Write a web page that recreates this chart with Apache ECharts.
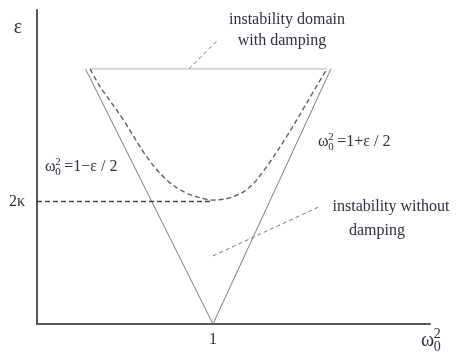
<!DOCTYPE html>
<html>
<head>
<meta charset="utf-8">
<script src="https://cdn.jsdelivr.net/npm/echarts@6/dist/echarts.min.js"></script>
<style>html,body{margin:0;padding:0;background:#fff;}#c{width:456px;height:356px;}</style>
</head>
<body>
<div id="c"></div>
<script>
// ---- data (x = omega0^2, y = epsilon) ----
var triangleNoDamping = [[0.502, 1.0], [1.0, 0.0], [1.461, 1.0]];
var topEdge = [[0.52, 1.0], [1.445, 1.0]];
var dampedBoundary = [
  [0.52, 1.0], [0.559, 0.931], [0.65, 0.80], [0.741, 0.656], [0.819, 0.565],
  [0.897, 0.513], [0.975, 0.489], [1.0, 0.486], [1.079, 0.499], [1.145, 0.538],
  [1.21, 0.617], [1.288, 0.735], [1.366, 0.866], [1.445, 1.0]
];
var kappa2 = 0.48;
var kappaLine = [[0.3125, kappa2], [1.0, kappa2]];
var leaderDamping = [[0.906, 1.0], [1.0195, 1.114]];
var leaderNoDamping = [[1.0, 0.267], [1.422, 0.463]];
var xTickLabels = {1: '1'};
var yTickLabelText = '2κ';

var SERIF = '"Liberation Serif","DejaVu Serif",serif';
var TXT = '#2e2e42';

function omegaGroup(x, y, rest, size) {
  var sub = Math.round(size * 0.68);
  var children = [
    {type: 'text', x: x, y: y, style: {text: 'ω', font: size + 'px ' + SERIF, fill: TXT, textVerticalAlign: 'middle'}},
    {type: 'text', x: x + size * 0.64, y: y - size * 0.33, style: {text: '2', font: sub + 'px ' + SERIF, fill: TXT, textVerticalAlign: 'middle'}},
    {type: 'text', x: x + size * 0.64, y: y + size * 0.3, style: {text: '0', font: sub + 'px ' + SERIF, fill: TXT, textVerticalAlign: 'middle'}}
  ];
  if (rest) {
    children.push({type: 'text', x: x + size * 1.2, y: y, style: {text: rest, font: size + 'px ' + SERIF, fill: TXT, textVerticalAlign: 'middle'}});
  }
  return {type: 'group', children: children};
}

var chart = echarts.init(document.getElementById('c'));
var lineBase = {type: 'line', symbol: 'none', silent: true, animation: false};
chart.setOption({
  animation: false,
  grid: {left: 37, right: 26, top: 10, bottom: 32},
  xAxis: {
    type: 'value', min: 0.3125, max: 1.848, interval: 0.0625,
    splitLine: {show: false}, axisTick: {show: false},
    axisLine: {lineStyle: {color: '#555', width: 2}},
    axisLabel: {
      interval: 0, margin: 8, color: TXT, fontFamily: SERIF, fontSize: 16,
      formatter: function (v) { return Math.abs(v - 1) < 1e-9 ? xTickLabels[1] : ''; }
    }
  },
  yAxis: {
    type: 'value', min: 0, max: 1.231, interval: kappa2,
    splitLine: {show: false}, axisTick: {show: false},
    axisLine: {lineStyle: {color: '#555', width: 2}},
    axisLabel: {
      margin: 12, color: TXT, fontFamily: SERIF, fontSize: 16, padding: [0, 0, 8, 0],
      formatter: function (v) { return Math.abs(v - kappa2) < 1e-9 ? yTickLabelText : ''; }
    }
  },
  series: [
    Object.assign({}, lineBase, {data: topEdge, lineStyle: {color: '#b4b4b4', width: 1}}),
    Object.assign({}, lineBase, {data: triangleNoDamping, lineStyle: {color: '#7a7a7a', width: 1}}),
    Object.assign({}, lineBase, {data: dampedBoundary, smooth: 0.35, lineStyle: {color: '#555', width: 1.3, type: [5, 3]}}),
    Object.assign({}, lineBase, {data: kappaLine, lineStyle: {color: '#444', width: 1.5, type: [5, 3]}}),
    Object.assign({}, lineBase, {data: leaderDamping, lineStyle: {color: '#777', width: 1, type: [4, 3]}}),
    Object.assign({}, lineBase, {data: leaderNoDamping, lineStyle: {color: '#777', width: 1, type: [4, 3]}})
  ],
  graphic: [
    {type: 'text', x: 18, y: 28, style: {text: 'ε', font: '20px ' + SERIF, fill: TXT, textAlign: 'center', textVerticalAlign: 'middle'}},
    {type: 'text', x: 287, y: 20, style: {text: 'instability domain', font: '16px ' + SERIF, fill: TXT, textAlign: 'center', textVerticalAlign: 'middle'}},
    {type: 'text', x: 282, y: 41, style: {text: 'with damping', font: '16px ' + SERIF, fill: TXT, textAlign: 'center', textVerticalAlign: 'middle'}},
    {type: 'text', x: 391, y: 207, style: {text: 'instability without', font: '16px ' + SERIF, fill: TXT, textAlign: 'center', textVerticalAlign: 'middle'}},
    {type: 'text', x: 377, y: 231, style: {text: 'damping', font: '16px ' + SERIF, fill: TXT, textAlign: 'center', textVerticalAlign: 'middle'}},
    omegaGroup(45, 167, '=1−ε / 2', 16),
    omegaGroup(318, 142, '=1+ε / 2', 16),
    omegaGroup(421, 341, '', 20)
  ]
});
</script>
</body>
</html>
